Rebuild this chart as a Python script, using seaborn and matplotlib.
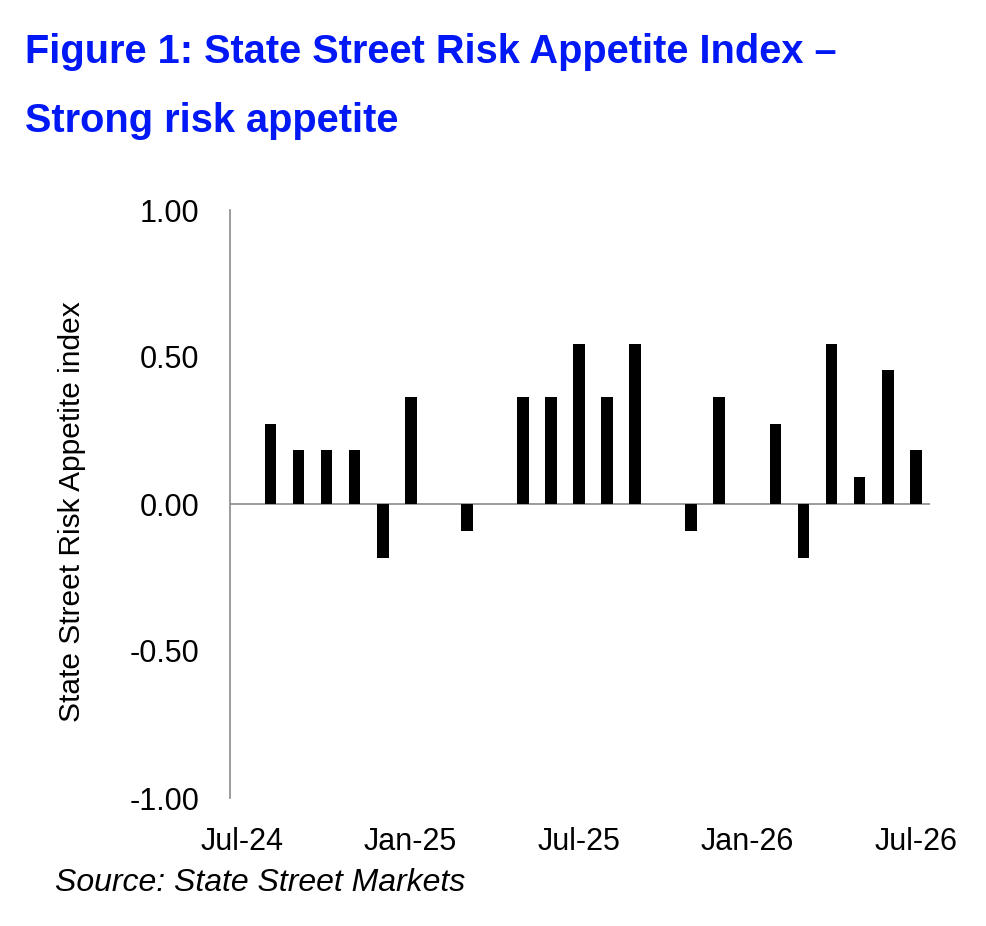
import matplotlib
matplotlib.use("Agg")
import matplotlib.pyplot as plt
import seaborn as sns
import pandas as pd

months = ["Jul-24", "Aug-24", "Sep-24", "Oct-24", "Nov-24", "Dec-24",
          "Jan-25", "Feb-25", "Mar-25", "Apr-25", "May-25", "Jun-25",
          "Jul-25", "Aug-25", "Sep-25", "Oct-25", "Nov-25", "Dec-25",
          "Jan-26", "Feb-26", "Mar-26", "Apr-26", "May-26", "Jun-26",
          "Jul-26"]
values = [0.0, 0.273, 0.182, 0.182, 0.182, -0.182,
          0.364, 0.0, -0.091, 0.0, 0.364, 0.364,
          0.545, 0.364, 0.545, 0.0, -0.091, 0.364,
          0.0, 0.273, -0.182, 0.545, 0.091, 0.455,
          0.182]
tick_labels = ["Jul-24", "Jan-25", "Jul-25", "Jan-26", "Jul-26"]
y_ticks = [-1.0, -0.5, 0.0, 0.5, 1.0]

sns.set_theme(style="white")
plt.rcParams["font.family"] = ["Liberation Sans", "DejaVu Sans"]

df = pd.DataFrame({"month": months, "value": values})

fig = plt.figure(figsize=(9.86, 9.26), dpi=100)
W, H = 986, 926
ax = fig.add_axes([230 / W, 1 - 798 / H, 700 / W, 588 / H])

sns.barplot(data=df, x="month", y="value", order=months, color="black",
            width=0.42, saturation=1, linewidth=0, ax=ax)

ax.set_ylim(-1.0, 1.0)
ax.set_xlim(-0.44, 24.51)
ax.set_yticks(y_ticks)
ax.set_yticklabels([f"{v:.2f}" for v in y_ticks])
ax.set_xticks([months.index(t) for t in tick_labels])
ax.set_xticklabels(tick_labels)
ax.tick_params(axis="both", length=0, labelsize=22, colors="black")
ax.tick_params(axis="y", pad=22)
ax.tick_params(axis="x", pad=21)

for s in ["top", "right", "bottom"]:
    ax.spines[s].set_visible(False)
ax.spines["left"].set_color("#8a8a8a")
ax.spines["left"].set_linewidth(1.2)
ax.axhline(0, color="#8a8a8a", linewidth=1.2, zorder=0)

ax.set_xlabel("")
ax.set_ylabel("State Street Risk Appetite index", fontsize=21.5, color="black")
ax.yaxis.label.set_rotation_mode("anchor")
ax.yaxis.label.set_va("center")
ax.yaxis.set_label_coords((72 - 230) / 700, (798 - 512) / 588)
ax.grid(False)

title_color = "#0018f5"
fig.text(25 / W, 1 - 63 / H, "Figure 1: State Street Risk Appetite Index \u2013",
         fontsize=28.6, fontweight="bold", color=title_color, va="baseline", ha="left")
fig.text(25 / W, 1 - 132 / H, "Strong risk appetite",
         fontsize=28.6, fontweight="bold", color=title_color, va="baseline", ha="left")
fig.text(55 / W, 1 - 891 / H, "Source: State Street Markets",
         fontsize=23, fontstyle="italic", color="black", va="baseline", ha="left")

fig.savefig("out.png", dpi=100, facecolor="white")
